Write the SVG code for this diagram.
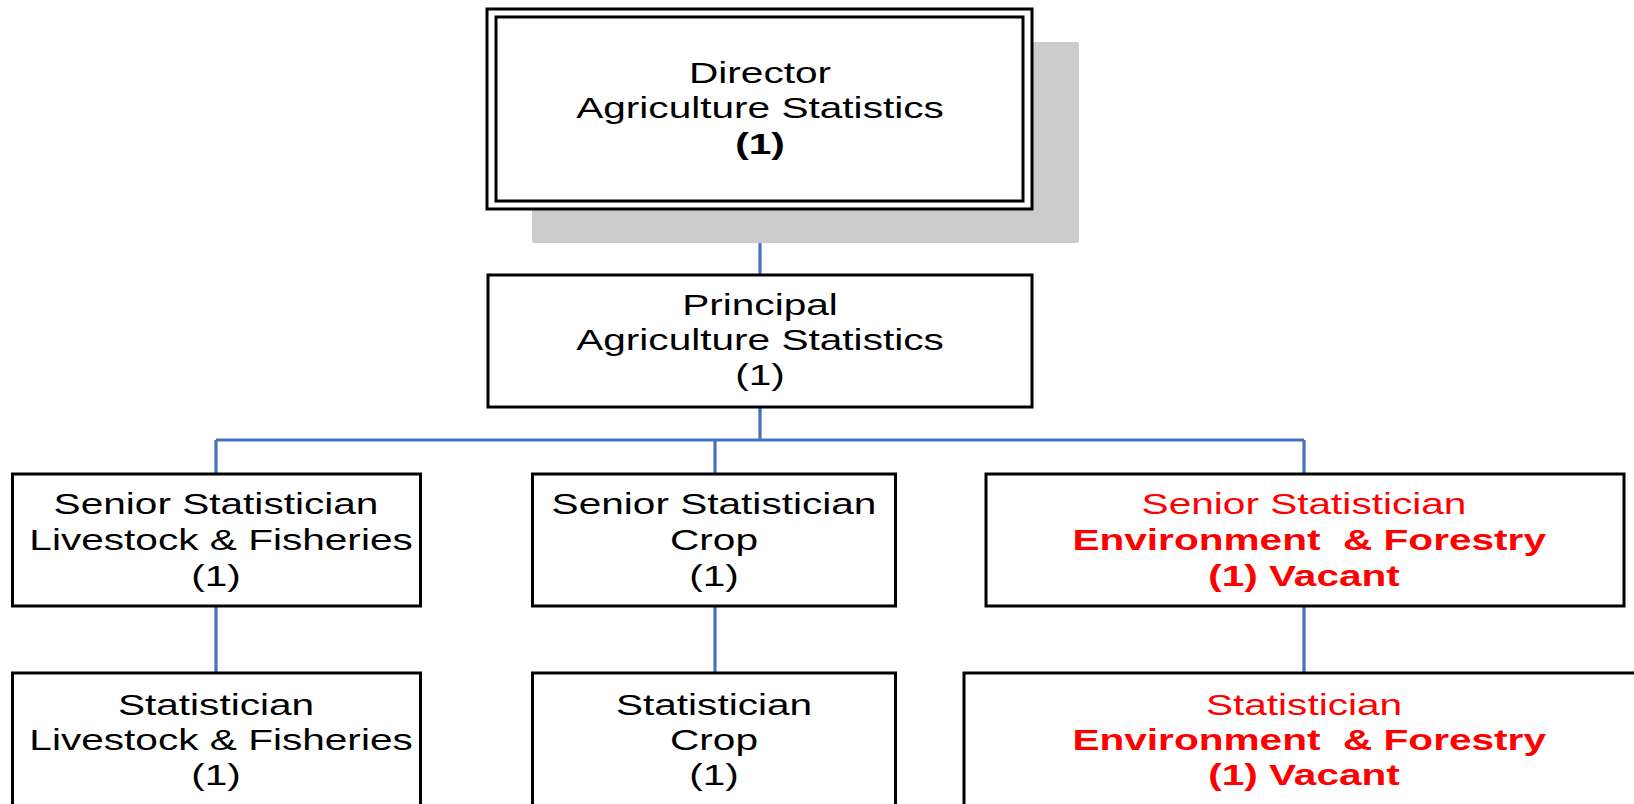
<svg xmlns="http://www.w3.org/2000/svg" width="1634" height="804" viewBox="0 0 1634 804">
<style>
.box{fill:#ffffff;stroke:#000000;stroke-width:3}
.conn{fill:none;stroke:#4472C4;stroke-width:3.2}
.t{font-family:"Liberation Sans",Arial,sans-serif;font-size:29px;text-anchor:middle;fill:#000000}
.b{font-weight:bold}
.red{fill:#FF0000}
</style>
<rect width="1634" height="804" fill="#ffffff"/>
<g id="connectors">
<line class="conn" x1="760" y1="209" x2="760" y2="275"/>
<line class="conn" x1="760" y1="407" x2="760" y2="440"/>
<line class="conn" x1="216" y1="440" x2="1304" y2="440"/>
<line class="conn" x1="216" y1="440" x2="216" y2="474"/>
<line class="conn" x1="715" y1="440" x2="715" y2="474"/>
<line class="conn" x1="1304" y1="440" x2="1304" y2="474"/>
<line class="conn" x1="216" y1="606" x2="216" y2="673"/>
<line class="conn" x1="715" y1="606" x2="715" y2="673"/>
<line class="conn" x1="1304" y1="606" x2="1304" y2="673"/>
</g>
<g id="director">
<rect x="532" y="42" width="547" height="201" rx="2" fill="#cccccc"/>
<rect class="box" x="487" y="9" width="545" height="200"/>
<rect class="box" x="496" y="17" width="527" height="184"/>
<text class="t" transform="translate(760,0) scale(1.4,1)"><tspan x="0" y="83">Director</tspan><tspan x="0" y="118">Agriculture Statistics</tspan><tspan x="0" y="154" class="b">(1)</tspan></text>
</g>
<g id="principal">
<rect class="box" x="488" y="275" width="544" height="132"/>
<text class="t" transform="translate(760,0) scale(1.4,1)"><tspan x="0" y="315">Principal</tspan><tspan x="0" y="350">Agriculture Statistics</tspan><tspan x="0" y="385">(1)</tspan></text>
</g>
<g id="senior-livestock">
<rect class="box" x="12.5" y="474" width="408" height="132"/>
<text class="t" transform="translate(216,0) scale(1.4,1)"><tspan x="0" y="514">Senior Statistician</tspan><tspan x="3.6" y="550">Livestock &amp; Fisheries</tspan><tspan x="0" y="586">(1)</tspan></text>
</g>
<g id="senior-crop">
<rect class="box" x="532.5" y="474" width="363" height="132"/>
<text class="t" transform="translate(714,0) scale(1.4,1)"><tspan x="0" y="514">Senior Statistician</tspan><tspan x="0" y="550">Crop</tspan><tspan x="0" y="586">(1)</tspan></text>
</g>
<g id="senior-environment">
<rect class="box" x="986" y="474" width="638" height="132"/>
<text class="t red" xml:space="preserve" transform="translate(1304,0) scale(1.4,1)"><tspan x="0" y="514">Senior Statistician</tspan><tspan x="3.7" y="550" class="b">Environment  &amp; Forestry</tspan><tspan x="0" y="586" class="b">(1) Vacant</tspan></text>
</g>
<g id="stat-livestock">
<rect class="box" x="12.5" y="673" width="408" height="160"/>
<text class="t" transform="translate(216,0) scale(1.4,1)"><tspan x="0" y="715">Statistician</tspan><tspan x="3.6" y="750">Livestock &amp; Fisheries</tspan><tspan x="0" y="785">(1)</tspan></text>
</g>
<g id="stat-crop">
<rect class="box" x="532.5" y="673" width="363" height="160"/>
<text class="t" transform="translate(714,0) scale(1.4,1)"><tspan x="0" y="715">Statistician</tspan><tspan x="0" y="750">Crop</tspan><tspan x="0" y="785">(1)</tspan></text>
</g>
<g id="stat-environment">
<rect class="box" x="964" y="673" width="690" height="160"/>
<text class="t red" xml:space="preserve" transform="translate(1304,0) scale(1.4,1)"><tspan x="0" y="715">Statistician</tspan><tspan x="3.7" y="750" class="b">Environment  &amp; Forestry</tspan><tspan x="0" y="785" class="b">(1) Vacant</tspan></text>
</g>
</svg>
